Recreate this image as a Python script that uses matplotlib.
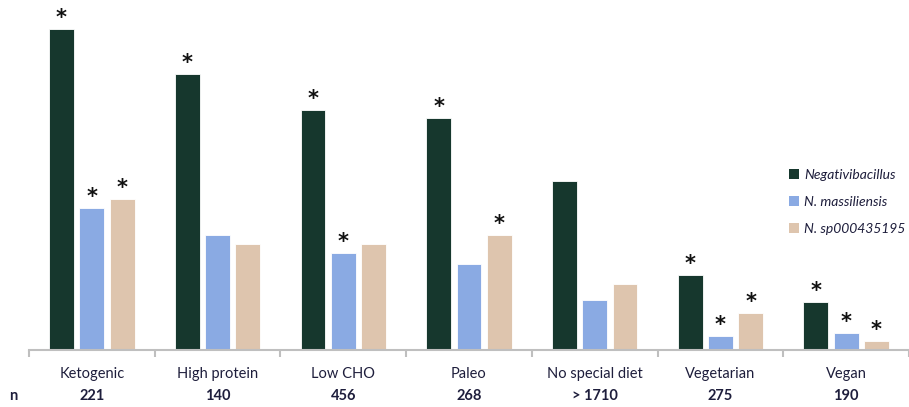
import matplotlib
matplotlib.use("Agg")
import matplotlib.pyplot as plt
from matplotlib.patches import Patch
import numpy as np

categories = ["Ketogenic", "High protein", "Low CHO", "Paleo", "No special diet", "Vegetarian", "Vegan"]
n_labels = ["221", "140", "456", "268", "> 1710", "275", "190"]
series_names = ["Negativibacillus", "N. massiliensis", "N. sp000435195"]
negativibacillus = [321, 276, 240, 232, 169, 75, 48]
massiliensis = [142, 115, 97, 86, 50, 14, 17]
sp000435195 = [151, 106, 106, 115, 66, 37, 9]
sig_negativibacillus = [True, True, True, True, False, True, True]
sig_massiliensis = [True, False, True, False, False, True, True]
sig_sp000435195 = [True, False, False, True, False, True, True]

colors = ["#16372D", "#8AAAE3", "#DEC5AE"]
text_color = "#1E1E3C"
font = "Lato"

W, H = 909, 407
fig = plt.figure(figsize=(W / 100, H / 100), dpi=100)
left_px, base_px = 29, 350
ax = fig.add_axes([left_px / W, (H - base_px) / H, (W - left_px) / W, base_px / H])

cat_w = 126.5
ax.set_xlim(-0.5, -0.5 + (W - left_px) / cat_w)
ax.set_ylim(0, base_px)

x = np.arange(len(categories))
bw = 25 / cat_w
step = 30.5 / cat_w
series = [negativibacillus, massiliensis, sp000435195]
sigs = [sig_negativibacillus, sig_massiliensis, sig_sp000435195]
for i, (vals, sg, c) in enumerate(zip(series, sigs, colors)):
    xs = x + (i - 1) * step
    ax.bar(xs, vals, width=bw, color=c, edgecolor="white", linewidth=0.6, zorder=2)
    for xi, v, s in zip(xs, vals, sg):
        if s:
            ax.text(xi, v + 1, "*", ha="center", va="bottom", fontsize=15,
                    fontweight="bold", color="#111111", family="DejaVu Sans")

for s in ["top", "right", "left"]:
    ax.spines[s].set_visible(False)
ax.spines["bottom"].set_color("#BFBFBF")
ax.spines["bottom"].set_linewidth(1.5)
ax.set_yticks([])
ax.set_xticks(np.arange(-0.5, len(categories) + 0.5, 1.0))
ax.set_xticklabels([])
ax.tick_params(axis="x", length=5, width=1.5, color="#BFBFBF", direction="out")

for xi, cat, n in zip(x, categories, n_labels):
    ax.annotate(cat, xy=(xi, 0), xycoords=("data", "axes fraction"),
                xytext=(0, -24), textcoords="offset pixels", ha="center", va="center",
                fontsize=10.5, color=text_color, family=font)
    ax.annotate(n, xy=(xi, 0), xycoords=("data", "axes fraction"),
                xytext=(0, -46), textcoords="offset pixels", ha="center", va="center",
                fontsize=10.5, color=text_color, family=font, fontweight="bold")
fig.text(13 / W, 1 - 396 / H, "n", ha="center", va="center", fontsize=10.5,
         color=text_color, family=font, fontweight="bold")

handles = [Patch(facecolor=c, edgecolor="none") for c in colors]
leg = fig.legend(handles, series_names, loc="upper left",
                 bbox_to_anchor=(783 / W, 1 - 163 / H), frameon=False,
                 handlelength=0.75, handleheight=0.75, handletextpad=0.35,
                 labelspacing=1.08, borderaxespad=0,
                 prop={"family": font, "style": "italic", "size": 10})
for t in leg.get_texts():
    t.set_color(text_color)

fig.savefig("out.png", dpi=100)
